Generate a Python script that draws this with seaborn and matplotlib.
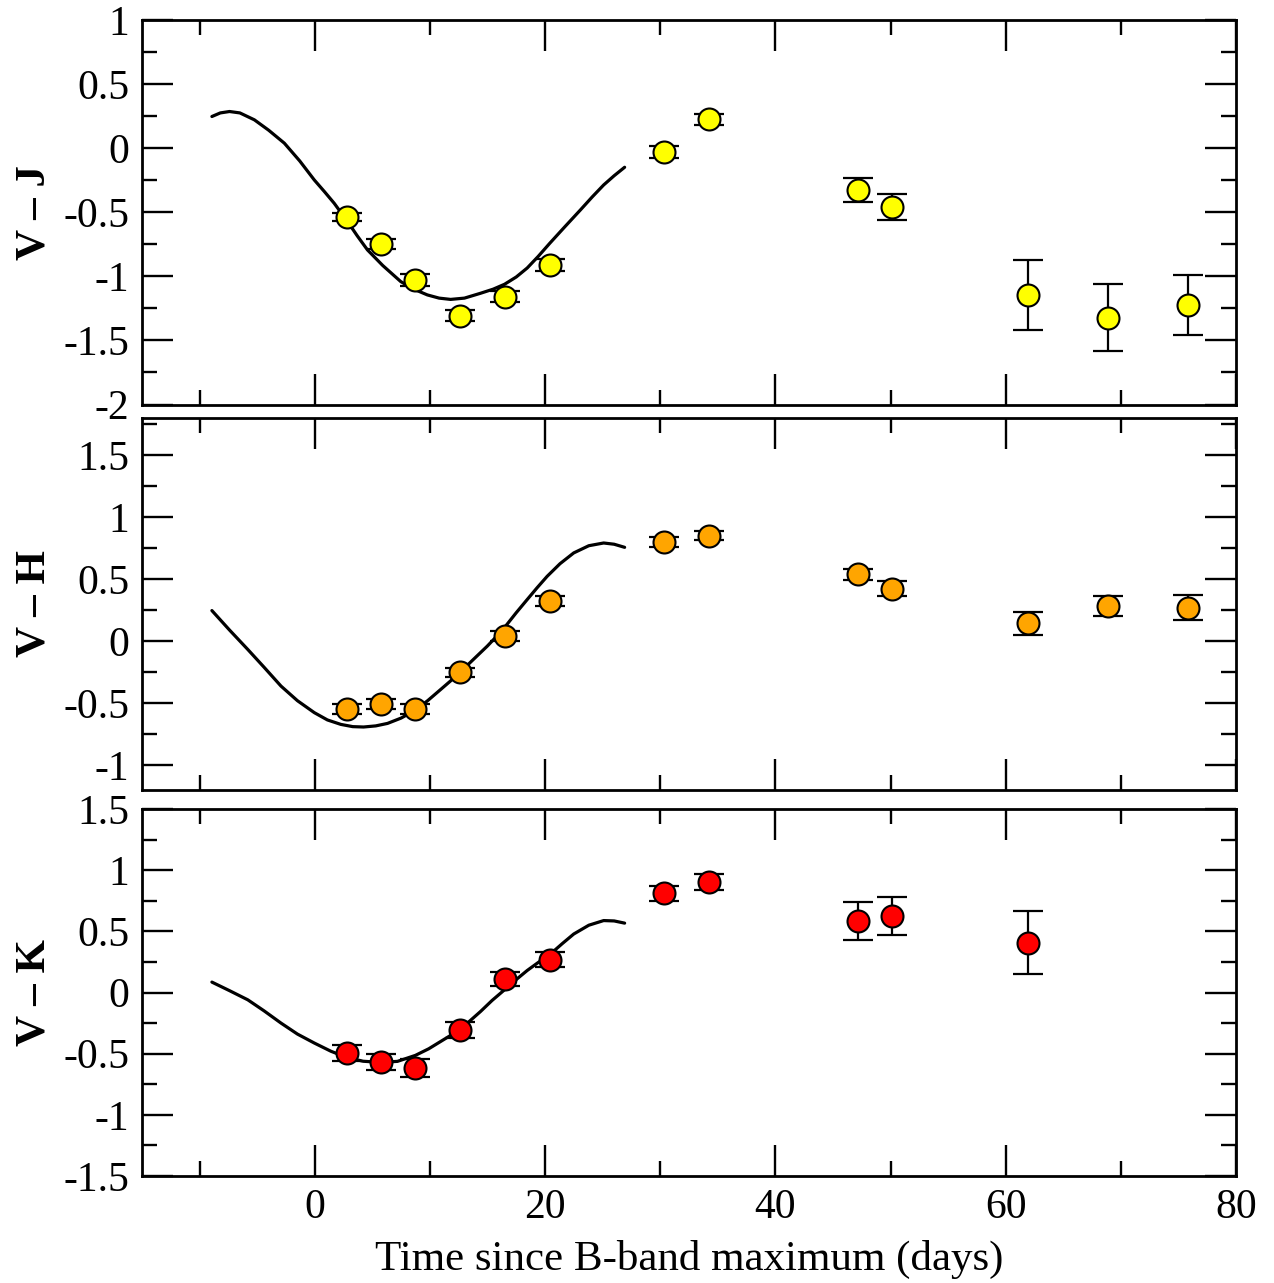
import numpy as np
import pandas as pd
import matplotlib
matplotlib.use("Agg")
import matplotlib.pyplot as plt
from matplotlib.ticker import MultipleLocator, FixedLocator
import seaborn as sns

# ---------------- data ----------------
t_obs = [2.76, 5.74, 8.74, 12.61, 16.48, 20.41, 30.33, 34.25, 47.14, 50.09, 61.97, 68.87, 75.79]

vj = [-0.539, -0.749, -1.028, -1.309, -1.158, -0.909, -0.029, 0.226, -0.326, -0.461, -1.145, -1.322, -1.223]
vj_err = [0.033, 0.039, 0.049, 0.043, 0.043, 0.047, 0.048, 0.043, 0.095, 0.10, 0.27, 0.26, 0.233]

vh = [-0.550, -0.510, -0.550, -0.250, 0.040, 0.322, 0.800, 0.851, 0.539, 0.424, 0.143, 0.287, 0.269]
vh_err = [0.04, 0.04, 0.04, 0.037, 0.04, 0.04, 0.04, 0.036, 0.047, 0.061, 0.089, 0.08, 0.10]

t_vk = [2.76, 5.74, 8.74, 12.61, 16.48, 20.41, 30.33, 34.25, 47.14, 50.09, 61.97]
vk = [-0.495, -0.571, -0.617, -0.304, 0.109, 0.267, 0.811, 0.906, 0.585, 0.626, 0.408]
vk_err = [0.065, 0.065, 0.073, 0.065, 0.057, 0.06, 0.063, 0.065, 0.152, 0.155, 0.256]

t_model_j = [-8.93, -8.2, -7.4, -6.5, -5.24, -4.0, -2.64, -1.3, -0.04, 0.85, 1.69, 2.85,
             3.7, 4.58, 5.9, 7.47, 8.6, 9.78, 10.8, 11.8, 13.0, 14.4, 15.5, 16.48,
             17.5, 18.45, 19.4, 20.41, 21.7, 23.07, 24.1, 25.09, 26.0, 26.91]
model_j = [0.247, 0.275, 0.286, 0.275, 0.221, 0.140, 0.039, -0.100, -0.248, -0.340, -0.430, -0.573,
           -0.685, -0.794, -0.915, -1.041, -1.100, -1.145, -1.170, -1.180, -1.170, -1.132, -1.100, -1.062,
           -1.005, -0.935, -0.845, -0.742, -0.615, -0.482, -0.380, -0.287, -0.215, -0.149]

t_model_h = [-8.93, -7.4, -5.81, -4.4, -2.93, -1.5, -0.04, 1.1, 2.27, 3.3, 4.24, 5.3, 6.32,
             7.5, 8.74, 9.8, 10.94, 11.8, 12.67, 13.8, 14.98, 15.8, 16.57, 17.5, 18.45,
             19.3, 20.18, 21.3, 22.49, 23.8, 25.09, 26.0, 26.91]
model_h = [0.247, 0.090, -0.067, -0.210, -0.362, -0.480, -0.576, -0.635, -0.671, -0.689, -0.692, -0.683, -0.663,
           -0.620, -0.556, -0.480, -0.389, -0.320, -0.246, -0.145, -0.040, 0.040, 0.121, 0.230, 0.336,
           0.430, 0.523, 0.625, 0.712, 0.770, 0.792, 0.782, 0.757]

t_model_k = [-8.93, -7.4, -5.81, -4.4, -2.93, -1.5, -0.04, 1.4, 2.76, 4.2, 5.74, 7.18, 8.74,
             9.9, 10.94, 12.61, 13.5, 14.4, 15.4, 16.48, 17.5, 18.45, 19.4, 20.41, 21.5,
             22.49, 23.8, 25.09, 26.0, 26.91]
model_k = [0.085, 0.015, -0.060, -0.150, -0.250, -0.340, -0.413, -0.480, -0.530, -0.562, -0.571, -0.563, -0.514,
           -0.460, -0.400, -0.304, -0.230, -0.155, -0.065, 0.022, 0.106, 0.180, 0.245, 0.310, 0.400,
           0.478, 0.550, 0.588, 0.585, 0.567]

panel_labels = ["V \u2013 J", "V \u2013 H", "V \u2013 K"]
panel_colors = ["#FFFF00", "#FFA500", "#FF0000"]
panel_ylims = [(-2.0, 1.0), (-1.2, 1.8), (-1.5, 1.5)]
panel_yticks = [[-2, -1.5, -1, -0.5, 0, 0.5, 1],
                [-1, -0.5, 0, 0.5, 1, 1.5],
                [-1.5, -1, -0.5, 0, 0.5, 1, 1.5]]
xticks = [0, 20, 40, 60, 80]
xlabel = "Time since B-band maximum (days)"

# ---------------- style ----------------
sns.set_theme(style="ticks")
plt.rcParams["font.family"] = ["Liberation Serif", "DejaVu Serif"]
plt.rcParams["text.color"] = "black"
plt.rcParams["axes.labelcolor"] = "black"
plt.rcParams["xtick.color"] = "black"
plt.rcParams["ytick.color"] = "black"

W, H = 1274, 1283
fig = plt.figure(figsize=(W / 100, H / 100), dpi=100)

left = 142 / W
width = (1236 - 142) / W
boxes = [(20, 404.5), (418, 790), (809, 1176)]

obs_sets = [(t_obs, vj, vj_err), (t_obs, vh, vh_err), (t_vk, vk, vk_err)]
model_sets = [(t_model_j, model_j), (t_model_h, model_h), (t_model_k, model_k)]

def fmt_tick(v):
    if float(v).is_integer():
        return str(int(v))
    return ("%g" % v)

for i in range(3):
    top, bot = boxes[i]
    ax = fig.add_axes([left, 1 - bot / H, width, (bot - top) / H])
    tx, ty, te = obs_sets[i]
    mx, my = model_sets[i]

    dfm = pd.DataFrame({"t": mx, "c": my})
    sns.lineplot(data=dfm, x="t", y="c", ax=ax, color="black", linewidth=2.3,
                 sort=False, estimator=None, zorder=2)
    ax.lines[-1].set_solid_joinstyle("round")

    ax.errorbar(tx, ty, yerr=te, fmt="none", ecolor="black", elinewidth=1.6,
                capsize=10.5, capthick=1.6, zorder=3)

    dfo = pd.DataFrame({"t": tx, "c": ty})
    sns.scatterplot(data=dfo, x="t", y="c", ax=ax, color=panel_colors[i], s=250,
                    edgecolor="black", linewidth=1.5, zorder=4)

    ax.set_xlim(-15, 80)
    ax.set_ylim(*panel_ylims[i])
    ax.xaxis.set_major_locator(FixedLocator(xticks))
    ax.xaxis.set_minor_locator(MultipleLocator(10))
    ax.yaxis.set_major_locator(FixedLocator(panel_yticks[i]))
    ax.yaxis.set_minor_locator(MultipleLocator(0.25))
    ax.set_yticklabels([fmt_tick(v) for v in panel_yticks[i]])

    ax.tick_params(which="both", direction="in", top=True, right=True,
                   labelsize=30, pad=9, width=1.7, colors="black")
    ax.tick_params(which="major", length=22)
    ax.tick_params(which="minor", length=11)
    for sp in ax.spines.values():
        sp.set_linewidth(2.0)
        sp.set_color("black")

    ax.set_ylabel(panel_labels[i], fontsize=31, fontweight="bold", labelpad=7,
                  color="black")
    if i < 2:
        ax.set_xlabel("")
        ax.tick_params(axis="x", labelbottom=False)
    else:
        ax.set_xticklabels([str(v) for v in xticks])
        ax.set_xlabel(xlabel, fontsize=31, labelpad=9, color="black")

fig.savefig("out.png", dpi=100)
